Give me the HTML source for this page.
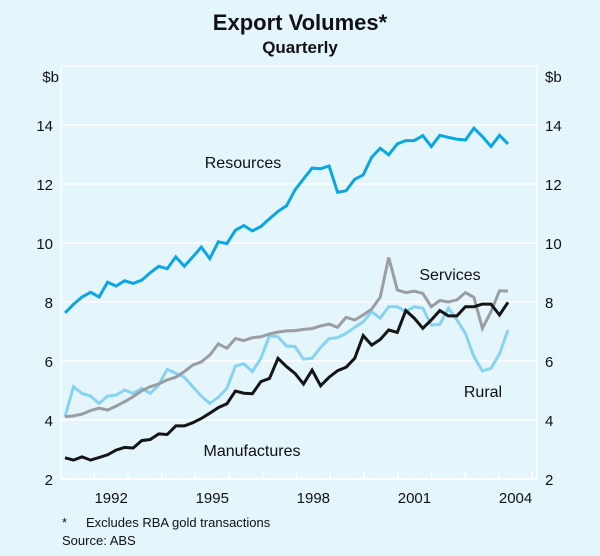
<!DOCTYPE html>
<html><head><meta charset="utf-8"><style>
html,body{margin:0;padding:0;background:#e4f5fc;}
svg{display:block;font-family:"Liberation Sans",Arial,sans-serif;}
</style></head><body>
<svg id="chart" width="600" height="556" viewBox="0 0 600 556">
<rect x="0" y="0" width="600" height="556" fill="#e4f5fc"/>
<text x="300" y="30" text-anchor="middle" font-size="22" font-weight="bold" fill="#111">Export Volumes*</text>
<text x="300" y="53" text-anchor="middle" font-size="17" font-weight="bold" fill="#111">Quarterly</text>
<text x="59" y="82" text-anchor="end" font-size="15" fill="#111">$b</text>
<text x="545" y="82" font-size="15" fill="#111">$b</text>
<g id="grid"></g>
<g id="series"></g>
<text x="243" y="168" text-anchor="middle" font-size="16" fill="#111">Resources</text>
<text x="450" y="280" text-anchor="middle" font-size="16" fill="#111">Services</text>
<text x="483" y="397" text-anchor="middle" font-size="16" fill="#111">Rural</text>
<text x="252" y="456" text-anchor="middle" font-size="16" fill="#111">Manufactures</text>
<text x="62" y="527" font-size="13" fill="#111">*</text>
<text x="86" y="527" font-size="13" fill="#111">Excludes RBA gold transactions</text>
<text x="62" y="545" font-size="13" fill="#111">Source: ABS</text>
</svg>
<script>
const yTicks = [2,4,6,8,10,12,14,16];
const yearLabels = [1992,1995,1998,2001,2004];
const resources = [7.63,7.92,8.17,8.33,8.17,8.67,8.54,8.72,8.63,8.74,8.99,9.21,9.13,9.53,9.21,9.53,9.86,9.47,10.04,9.98,10.43,10.59,10.41,10.56,10.82,11.07,11.26,11.80,12.17,12.54,12.52,12.61,11.72,11.77,12.16,12.31,12.91,13.21,12.99,13.36,13.47,13.47,13.64,13.27,13.65,13.58,13.52,13.49,13.89,13.61,13.27,13.65,13.36];
const services = [4.11,4.14,4.20,4.32,4.40,4.34,4.47,4.62,4.79,4.99,5.13,5.22,5.36,5.45,5.64,5.86,5.97,6.20,6.58,6.43,6.76,6.69,6.79,6.82,6.92,6.98,7.02,7.03,7.07,7.10,7.19,7.25,7.14,7.48,7.39,7.56,7.76,8.16,9.51,8.41,8.32,8.37,8.29,7.84,8.05,8.00,8.07,8.32,8.16,7.11,7.67,8.38,8.37];
const rural = [4.11,5.13,4.90,4.81,4.56,4.81,4.84,5.02,4.90,5.07,4.90,5.19,5.72,5.58,5.45,5.13,4.81,4.56,4.77,5.07,5.83,5.90,5.64,6.09,6.86,6.82,6.51,6.49,6.06,6.09,6.46,6.76,6.79,6.94,7.14,7.33,7.67,7.45,7.84,7.84,7.67,7.84,7.79,7.22,7.24,7.79,7.39,6.94,6.15,5.66,5.75,6.24,7.05];
const manufactures = [2.72,2.64,2.75,2.64,2.73,2.82,2.98,3.07,3.05,3.30,3.34,3.53,3.51,3.80,3.80,3.91,4.05,4.23,4.42,4.55,4.98,4.91,4.89,5.30,5.41,6.09,5.81,5.58,5.22,5.69,5.16,5.45,5.67,5.79,6.09,6.86,6.54,6.73,7.05,6.97,7.71,7.45,7.11,7.39,7.71,7.53,7.53,7.84,7.84,7.93,7.93,7.56,7.99];

const NS='http://www.w3.org/2000/svg';
const L=61,R=537,T=66,B=479;
function yPos(v){return 420+(4-v)*29.5;}
function yearX(y){return 94.3+(y-1992)*33.7;}
function qX(i){return 65+i*443/52;}
function mk(tag,attrs,parent){const e=document.createElementNS(NS,tag);for(const k in attrs)e.setAttribute(k,attrs[k]);parent.appendChild(e);return e;}
const grid=document.getElementById('grid');
yTicks.forEach(v=>{
  const y=yPos(v);
  const ln=mk('line',{x1:L,x2:R,y1:y,y2:y,stroke:'#ffffff','stroke-width':v===2?2:1.5},grid);
  
  
  if(v<16){
    const t1=mk('text',{x:53,y:y+6,'text-anchor':'end','font-size':15,fill:'#111'},grid);t1.textContent=v;
    
    
    const t2=mk('text',{x:545,y:y+6,'font-size':15,fill:'#111'},grid);t2.textContent=v;
    
    
  }
});
[L,R].forEach(x=>{const b=mk('line',{x1:x,x2:x,y1:T,y2:B,stroke:'#ffffff','stroke-width':1.5},grid);

});
for(let yr=1991;yr<=2005;yr++){
  const x=yearX(yr); if(x<L-1||x>R+1)continue;
  const tk=mk('line',{x1:x,x2:x,y1:B,y2:B-8,stroke:'#ffffff','stroke-width':1.5},grid);
  
  
}
yearLabels.forEach(yr=>{
  const t=mk('text',{x:yearX(yr+0.5),y:503,'text-anchor':'middle','font-size':15,fill:'#111'},grid);t.textContent=yr;
  
  
});
const sg=document.getElementById('series');
function draw(arr,color,name){
  const pts=arr.map((v,i)=>qX(i).toFixed(1)+','+yPos(v).toFixed(1)).join(' ');
  const p=mk('polyline',{points:pts,fill:'none',stroke:color,'stroke-width':3,'stroke-linejoin':'miter'},sg);
  
  
}
draw(rural,'#86d3f2','rural-line');
draw(services,'#9a9ea3','services-line');
draw(manufactures,'#141414','manufactures-line');
draw(resources,'#0aa6e4','resources-line');
</script>
</body></html>
